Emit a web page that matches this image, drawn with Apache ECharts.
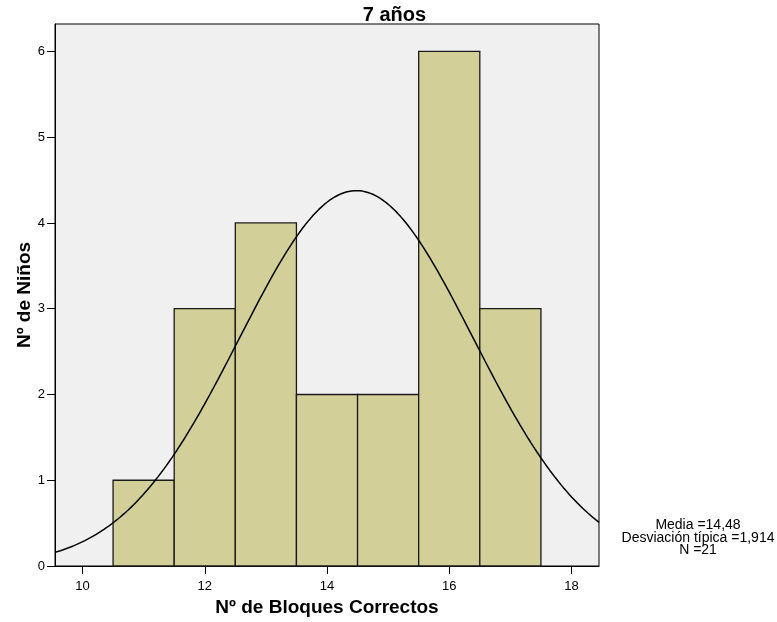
<!DOCTYPE html>
<html>
<head>
<meta charset="utf-8">
<style>
  html, body { margin: 0; padding: 0; background: #ffffff; }
  #chart { width: 777px; height: 622px; }
</style>
<script src="https://cdn.jsdelivr.net/npm/echarts@6/dist/echarts.min.js"></script>
</head>
<body>
<div id="chart"></div>
<script>
// Histogram bins: centre of each bin (width 1) and number of children
const binCenters = [11, 12, 13, 14, 15, 16, 17];
const binCounts = [1, 3, 4, 2, 2, 6, 3];
const binWidth = 1;

// Summary statistics shown beside the chart
const mean = 14.48;
const stdDev = 1.914;
const sampleSize = 21;

const xTicks = [10, 12, 14, 16, 18];
const yTicks = [0, 1, 2, 3, 4, 5, 6];
const xRange = [9.55, 18.45];
const yRange = [0, 6.32];

// Fitted normal curve scaled to the histogram (N * bin width * density)
const curvePoints = [];
const steps = 200;
for (let i = 0; i <= steps; i++) {
  const x = xRange[0] + (xRange[1] - xRange[0]) * i / steps;
  const z = (x - mean) / stdDev;
  const y = sampleSize * binWidth / (stdDev * Math.sqrt(2 * Math.PI)) * Math.exp(-0.5 * z * z);
  curvePoints.push([x, y]);
}

const barData = binCenters.map((c, i) => [c, binCounts[i]]);

const font = 'Arial, "Liberation Sans", sans-serif';
const chart = echarts.init(document.getElementById('chart'));
chart.setOption({
  animation: false,
  backgroundColor: '#ffffff',
  title: {
    text: '7 años',
    left: 389.5,
    top: 0,
    textAlign: 'center',
    textStyle: { fontFamily: font, fontWeight: 'bold', fontSize: 20, color: '#000' }
  },
  grid: {
    left: 55, top: 24, right: 178, bottom: 54,
    show: true,
    backgroundColor: '#f0f0f0',
    borderColor: '#000',
    borderWidth: 1
  },
  xAxis: {
    type: 'value',
    min: xRange[0],
    max: xRange[1],
    name: 'Nº de Bloques Correctos',
    nameLocation: 'middle',
    nameGap: 32,
    nameMoveOverlap: false,
    nameTextStyle: { fontFamily: font, fontWeight: 'bold', fontSize: 19, color: '#000' },
    axisLine: { lineStyle: { color: '#000', width: 1 } },
    axisTick: { show: true, length: 8, customValues: xTicks, lineStyle: { color: '#000' } },
    axisLabel: { customValues: xTicks, fontFamily: font, fontSize: 13, color: '#000', margin: 14 },
    splitLine: { show: false }
  },
  yAxis: {
    type: 'value',
    min: yRange[0],
    max: yRange[1],
    name: 'Nº de Niños',
    nameLocation: 'middle',
    nameGap: 21,
    nameMoveOverlap: false,
    nameTextStyle: { fontFamily: font, fontWeight: 'bold', fontSize: 19, color: '#000' },
    axisLine: { show: true, lineStyle: { color: '#000', width: 1 } },
    axisTick: { show: true, length: 8, customValues: yTicks, lineStyle: { color: '#000' } },
    axisLabel: { customValues: yTicks, fontFamily: font, fontSize: 13, color: '#000', margin: 10 },
    splitLine: { show: false }
  },
  graphic: [{
    type: 'text',
    x: 698,
    y: 519,
    style: {
      text: 'Media =' + mean.toFixed(2).replace('.', ',') +
            '\nDesviación típica =' + stdDev.toFixed(3).replace('.', ',') +
            '\nN =' + sampleSize,
      fontFamily: font,
      fontSize: 14,
      lineHeight: 12.5,
      fill: '#000',
      align: 'center',
      verticalAlign: 'top'
    }
  }],
  series: [
    {
      type: 'custom',
      data: barData,
      renderItem: function (params, api) {
        const c = api.value(0);
        const v = api.value(1);
        const p0 = api.coord([c - binWidth / 2, v]);
        const p1 = api.coord([c + binWidth / 2, 0]);
        return {
          type: 'rect',
          shape: { x: p0[0], y: p0[1], width: p1[0] - p0[0], height: p1[1] - p0[1] },
          style: { fill: '#d3cf99', stroke: '#1a1a1a', lineWidth: 1.3 }
        };
      },
      z: 2
    },
    {
      type: 'line',
      data: curvePoints,
      showSymbol: false,
      smooth: false,
      lineStyle: { color: '#000', width: 1.5 },
      z: 3
    }
  ]
});
</script>
</body>
</html>
